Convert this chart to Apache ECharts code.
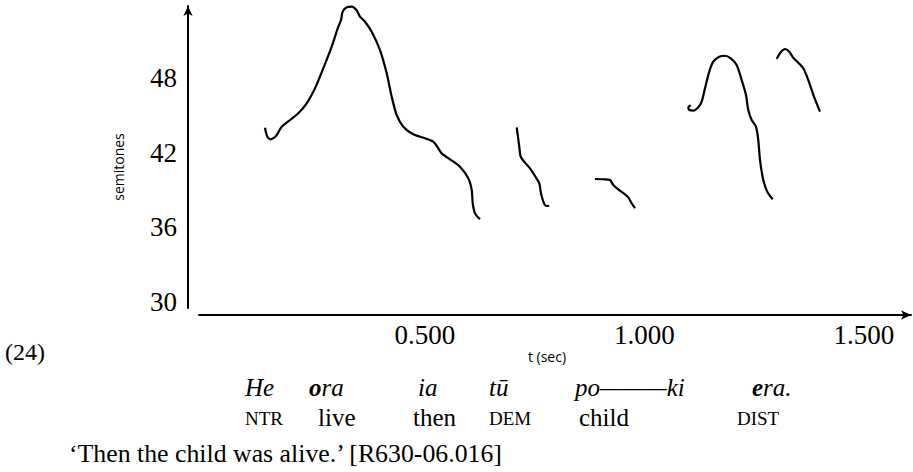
<!DOCTYPE html>
<html>
<head>
<meta charset="utf-8">
<script src="https://cdn.jsdelivr.net/npm/echarts@6/dist/echarts.min.js"></script>
<style>
html,body{margin:0;padding:0;background:#fff;}
#chart{width:913px;height:472px;}
</style>
</head>
<body>
<div id="chart"></div>
<script>
// ---- data: pitch contours [time (s), semitones] ----
var contour1 = [[0.1355,44.0],[0.1408,43.28],[0.1485,43.07],[0.1606,43.33],[0.1736,44.08],[0.1925,44.62],[0.2114,45.16],[0.2305,45.96],[0.2494,47.16],[0.2683,48.77],[0.2875,50.51],[0.3025,52.11],[0.3087,52.65],[0.3125,53.32],[0.3216,53.68],[0.3330,53.72],[0.3444,53.42],[0.3519,52.92],[0.3633,52.51],[0.3786,51.71],[0.3975,50.24],[0.4128,48.37],[0.4241,46.49],[0.4355,45.02],[0.4506,44.08],[0.4733,43.47],[0.5000,43.15],[0.5189,42.88],[0.5280,42.47],[0.5380,41.94],[0.5570,41.46],[0.5797,40.87],[0.5986,39.94],[0.6064,39.0],[0.6087,37.93],[0.6139,37.12],[0.6253,36.64]];
var contour2 = [[0.7089,44.03],[0.7148,42.47],[0.7180,41.67],[0.7278,41.19],[0.7392,40.74],[0.7506,40.12],[0.7604,39.53],[0.7642,38.73],[0.7695,38.06],[0.7750,37.73],[0.7831,37.71]];
var contour3 = [[0.8872,39.88],[0.9062,39.86],[0.9214,39.80],[0.9289,39.40],[0.9403,39.05],[0.9556,38.65],[0.9631,38.41],[0.9708,37.93],[0.9784,37.53]];
var contour4 = [[1.1052,45.82],[1.0998,45.64],[1.1021,45.42],[1.1112,45.37],[1.1226,45.64],[1.1303,46.09],[1.1378,47.16],[1.1476,48.50],[1.1567,49.30],[1.1704,49.70],[1.1834,49.78],[1.1964,49.57],[1.2100,49.04],[1.2214,47.83],[1.2312,46.63],[1.2364,45.42],[1.2442,44.62],[1.2540,44.08],[1.2592,43.01],[1.2631,41.41],[1.2706,39.80],[1.2797,38.86],[1.2920,38.25]];
var contour5 = [[1.3011,49.52],[1.3103,50.06],[1.3200,50.32],[1.3298,50.10],[1.3390,49.62],[1.3503,49.22],[1.3617,48.77],[1.3731,47.83],[1.3861,46.49],[1.3998,45.29]];

// ---- ticks ----
var xTickValues = [0.5, 1.0, 1.5];
var yTickValues = [30, 36, 42, 48];

// ---- texts ----
var xAxisTitle = 't (sec)';
var yAxisTitle = 'semitones';
var exampleNumber = '(24)';
var glossWords = ['He', '{b|o}ra', 'ia', 'tū', 'po———ki', '{b|e}ra.'];
var glossLabels = ['NTR', 'live', 'then', 'DEM', 'child', 'DIST'];
var glossLabelSmallCaps = [true, false, false, true, false, true];
var translation = '\u2018Then the child was alive.\u2019 [R630-06.016]';

// ---- layout (not data) ----
var wordX = [245, 309, 418, 489, 575, 752];
var labelX = [245, 318, 413, 489, 579, 737];

var chart = echarts.init(document.getElementById('chart'), null, {renderer: 'svg'});

var SERIF = 'Liberation Serif';
var SANS = 'Open Sans';

function lineSeries(d) {
  return {
    type: 'line', data: d, showSymbol: false, smooth: 0.25, clip: false, silent: true,
    lineStyle: {color: '#000', width: 2.2}
  };
}

var graphics = [];
graphics.push({type: 'text', x: 5, y: 352, style: {text: exampleNumber, fontFamily: SERIF, fontSize: 24, fill: '#000', verticalAlign: 'middle', align: 'left'}});
graphics.push({type: 'text', x: 547, y: 356, style: {text: xAxisTitle, fontFamily: SANS, fontSize: 14, fill: '#000', verticalAlign: 'middle', align: 'center'}});
graphics.push({type: 'text', x: 118, y: 167, rotation: Math.PI / 2, style: {text: yAxisTitle, fontFamily: SANS, fontSize: 14, fill: '#000', verticalAlign: 'middle', align: 'center'}});
for (var i = 0; i < glossWords.length; i++) {
  graphics.push({type: 'text', x: wordX[i], y: 387, style: {
    text: glossWords[i], fill: '#000', verticalAlign: 'middle', align: 'left',
    fontFamily: SERIF, fontSize: 25, fontStyle: 'italic',
    rich: {b: {fontFamily: SERIF, fontSize: 25, fontStyle: 'italic', fontWeight: 'bold', fill: '#000'}}
  }});
  var sc = glossLabelSmallCaps[i];
  graphics.push({type: 'text', x: labelX[i], y: sc ? 418.5 : 417, style: {
    text: glossLabels[i], fill: '#000', verticalAlign: 'middle', align: 'left',
    fontFamily: SERIF, fontSize: sc ? 19 : 25
  }});
}
graphics.push({type: 'text', x: 69, y: 453.5, style: {text: translation, fill: '#000', verticalAlign: 'middle', align: 'left', fontFamily: SERIF, fontSize: 25.8}});

chart.setOption({
  animation: false,
  backgroundColor: '#fff',
  grid: {left: 199, top: 6, width: 712, height: 302, containLabel: false},
  xAxis: {
    type: 'value', min: -0.0148, max: 1.6071, position: 'bottom', offset: 7,
    axisLine: {show: true, onZero: false, symbol: ['none', 'arrow'], symbolSize: [7, 10], lineStyle: {color: '#000', width: 2}},
    axisTick: {show: false}, splitLine: {show: false},
    axisLabel: {show: true, customValues: xTickValues, formatter: function (v) { return v.toFixed(3); },
      fontFamily: SERIF, fontSize: 27, color: '#000', margin: 6}
  },
  yAxis: {
    type: 'value', min: 29.518, max: 53.775, offset: 11,
    axisLine: {show: true, onZero: false, symbol: ['none', 'arrow'], symbolSize: [7, 10], lineStyle: {color: '#000', width: 2}},
    axisTick: {show: false}, splitLine: {show: false},
    axisLabel: {show: true, customValues: yTickValues, formatter: function (v) { return String(v); },
      fontFamily: SERIF, fontSize: 27, color: '#000', margin: 11}
  },
  graphic: graphics,
  series: [lineSeries(contour1), lineSeries(contour2), lineSeries(contour3), lineSeries(contour4), lineSeries(contour5)]
});
</script>
</body>
</html>
